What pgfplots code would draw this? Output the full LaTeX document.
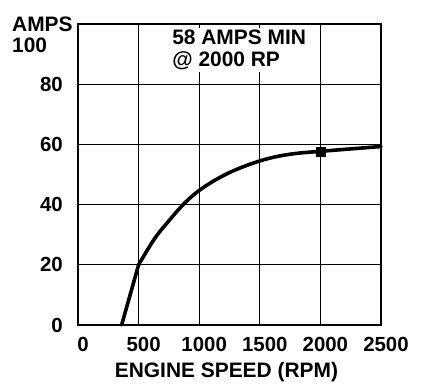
\documentclass[border=0pt]{standalone}
\usepackage{pgfplots}
\pgfplotsset{compat=1.18}
\usepackage{fontspec}
\setmainfont{Liberation Sans}
\begin{document}
\begin{tikzpicture}
\path[use as bounding box] (-78bp,-67bp) rectangle (370bp,325bp);
\begin{axis}[
  scale only axis,
  width=303bp, height=301bp,
  at={(0,0)}, anchor=south west,
  xmin=0, xmax=2500, ymin=0, ymax=100,
  xtick={0,500,1000,1500,2000,2500},
  ytick={0,20,40,60,80},
  grid=major,
  major grid style={black, line width=1.3bp},
  axis line style={black, line width=2.6bp},
  major tick length=0pt,
  clip=false,
  /pgf/number format/assume math mode=true,
  /pgf/number format/set thousands separator={},
  tick label style={font=\fontsize{20.5}{21}\selectfont\bfseries, inner sep=0pt},
  xticklabel style={anchor=north, yshift=-12bp, xshift=5bp},
  yticklabel style={anchor=east, xshift=-15bp},
  xlabel={ENGINE SPEED (RPM)},
  xlabel style={font=\fontsize{21}{21}\selectfont\bfseries, inner sep=0pt, at={(axis description cs:0.49,0)}, anchor=north, yshift=-37bp},
]
\addplot[black, line width=3.6bp, line cap=round] coordinates {(360,0) (500,20)};
\addplot[black, line width=3.6bp, smooth, tension=0.6, line cap=round] coordinates {
  (500,20) (627,28.4) (737,34) (875,40.3) (1000,44.7) (1160,48.8) (1321,51.9)
  (1500,54.5) (1645,56) (1800,57) (2000,57.7) (2250,58.5) (2500,59.3)
};
\addplot[only marks, mark=square*, mark size=4.5bp, black] coordinates {(2000,57.7)};
\node[anchor=north west, inner sep=2bp, fill=white, align=left, font=\fontsize{21}{22}\selectfont\bfseries] at (axis cs:760,98.8) {58 AMPS MIN\\@ 2000 RP};
\end{axis}
\node[anchor=north west, inner sep=0pt, align=left, font=\fontsize{21}{21}\selectfont\bfseries] at (-66bp,308bp) {AMPS\\100};
\end{tikzpicture}
\end{document}
